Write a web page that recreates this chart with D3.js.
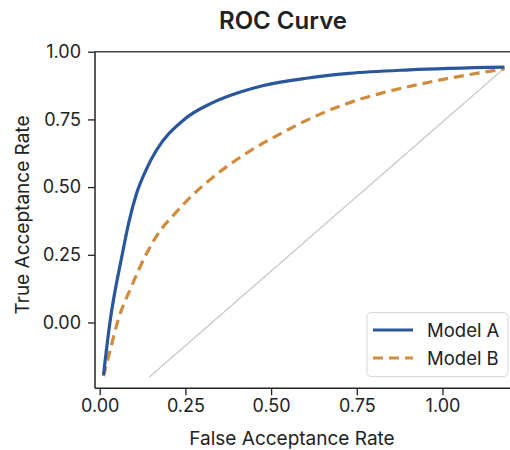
<!DOCTYPE html>
<html><head><meta charset="utf-8">
<script src="https://cdn.jsdelivr.net/npm/d3@7"></script>
<style>body{margin:0;background:#fff}svg{display:block}</style></head>
<body><svg id="c" width="510" height="450"></svg>
<script>
// ---- data ----
const seriesNames = ["Model A", "Model B"];
const modelA_fpr = [0.011, 0.030, 0.066, 0.085, 0.108, 0.135, 0.165, 0.245, 0.330, 0.408, 0.475, 0.603, 0.728, 0.903, 1.181];
const modelA_tpr = [-0.194, 0.002, 0.253, 0.370, 0.478, 0.563, 0.635, 0.748, 0.812, 0.850, 0.874, 0.902, 0.920, 0.933, 0.943];
const modelB_fpr = [0.011, 0.033, 0.052, 0.092, 0.136, 0.174, 0.218, 0.256, 0.329, 0.428, 0.524, 0.621, 0.720, 0.825, 0.941, 1.058, 1.181];
const modelB_tpr = [-0.198, -0.090, 0.002, 0.131, 0.253, 0.335, 0.400, 0.452, 0.535, 0.625, 0.695, 0.757, 0.808, 0.848, 0.882, 0.911, 0.936];
const chance_fpr = [0.145, 1.181];
const chance_tpr = [-0.201, 0.940];
const xTicks = [0, 0.25, 0.5, 0.75, 1.0];
const yTicks = [0, 0.25, 0.5, 0.75, 1.0];
const titleText = "ROC Curve";
const xLabelText = "False Acceptance Rate";
const yLabelText = "True Acceptance Rate";

// ---- chart ----
const FONT = "Inter, 'Liberation Sans', sans-serif";
const colors = ["#2a579b", "#d08b3d"];
const svg = d3.select("#c");
const L = 95, R = 510, T = 51.7, B = 388.3;
const x = d3.scaleLinear().domain([-0.0137, 1.197]).range([L, R]);
const y = d3.scaleLinear().domain([-0.243, 1.0]).range([B, T]);

svg.append("text").attr("x", 283).attr("y", 29).attr("text-anchor", "middle")
  .attr("font-family", FONT).attr("font-size", 24).attr("font-weight", 600).attr("fill", "#222")
  .text(titleText);

// spines
svg.append("line").attr("x1", L).attr("x2", R).attr("y1", T).attr("y2", T).attr("stroke", "#444").attr("stroke-width", 1.5);
svg.append("line").attr("x1", L).attr("x2", L).attr("y1", T).attr("y2", B).attr("stroke", "#222").attr("stroke-width", 1.5);
svg.append("line").attr("x1", L).attr("x2", R).attr("y1", B).attr("y2", B).attr("stroke", "#222").attr("stroke-width", 1.5);

const fmt = d3.format(".2f");
const gx = svg.append("g").attr("transform", `translate(0,${B})`)
  .call(d3.axisBottom(x).tickValues(xTicks).tickFormat(fmt).tickSize(7).tickPadding(4).tickSizeOuter(0));
const gy = svg.append("g").attr("transform", `translate(${L},0)`)
  .call(d3.axisLeft(y).tickValues(yTicks).tickFormat(fmt).tickSize(7).tickPadding(7).tickSizeOuter(0));
[gx, gy].forEach(g => {
  g.select(".domain").remove();
  g.selectAll(".tick line").attr("stroke", "#222").attr("stroke-width", 1.3);
  g.selectAll(".tick text").attr("font-family", FONT).attr("font-size", 18).attr("fill", "#222");
});

svg.append("text").attr("x", 292).attr("y", 445).attr("text-anchor", "middle")
  .attr("font-family", FONT).attr("font-size", 19).attr("fill", "#222").text(xLabelText);
svg.append("text").attr("transform", "translate(29,215) rotate(-90)").attr("text-anchor", "middle")
  .attr("font-family", FONT).attr("font-size", 19).attr("fill", "#222").text(yLabelText);

const line = d3.line().x(d => x(d[0])).y(d => y(d[1]));
// chance diagonal
svg.append("path").datum(d3.zip(chance_fpr, chance_tpr)).attr("d", line)
  .attr("fill", "none").attr("stroke", "#c8c8c8").attr("stroke-width", 1.2);

const smooth = d3.line().x(d => x(d[0])).y(d => y(d[1])).curve(d3.curveMonotoneX);
svg.append("path").datum(d3.zip(modelB_fpr, modelB_tpr)).attr("d", smooth)
  .attr("fill", "none").attr("stroke", colors[1]).attr("stroke-width", 3.2).attr("stroke-dasharray", "10,6");
svg.append("path").datum(d3.zip(modelA_fpr, modelA_tpr)).attr("d", smooth)
  .attr("fill", "none").attr("stroke", colors[0]).attr("stroke-width", 3.2);

// legend
const lg = svg.append("g");
lg.append("rect").attr("x", 367).attr("y", 312.5).attr("width", 141).attr("height", 64).attr("rx", 4)
  .attr("fill", "#fff").attr("fill-opacity", 0.85).attr("stroke", "#d8d8d8");
seriesNames.forEach((n, i) => {
  const yy = 330 + i * 28;
  lg.append("line").attr("x1", 373).attr("x2", 413).attr("y1", yy).attr("y2", yy)
    .attr("stroke", colors[i]).attr("stroke-width", 3.2).attr("stroke-dasharray", i ? "10,6" : null);
  lg.append("text").attr("x", 427).attr("y", yy + 6.5).attr("font-family", FONT).attr("font-size", 18.5).attr("fill", "#222").text(n);
});
</script></body></html>
